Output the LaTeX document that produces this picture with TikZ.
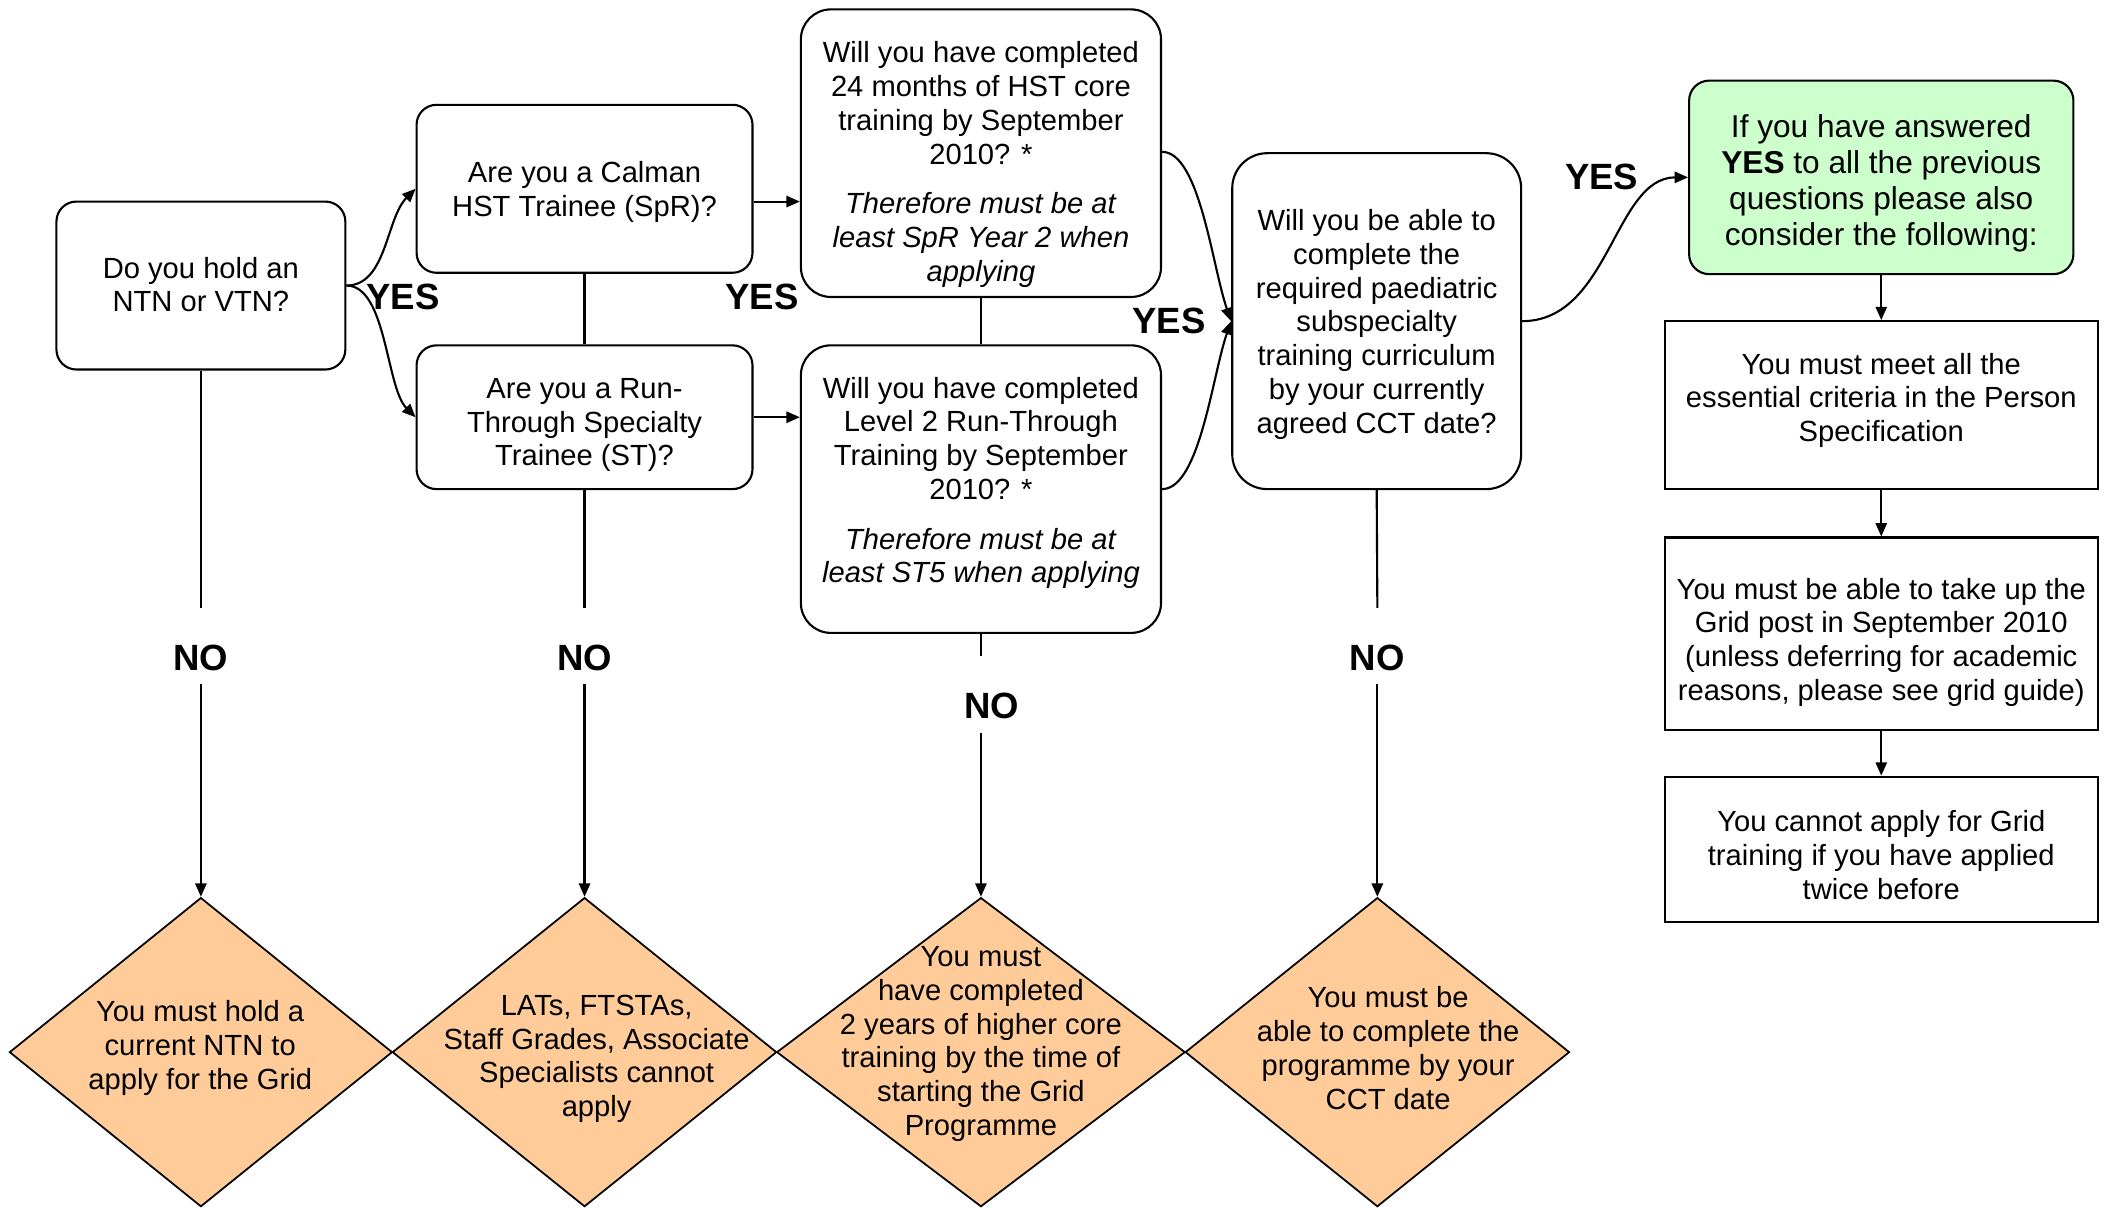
\documentclass[tikz,border=0pt]{standalone}
\usepackage{fontspec}
\setmainfont{Liberation Sans}
\usetikzlibrary{arrows.meta,shapes.geometric}

\definecolor{peach}{HTML}{FFCC99}
\definecolor{mint}{HTML}{CCFFCC}
\newlength\pxdim
\setlength\pxdim{0.013438cm}
% text block moved down by #1, box keeps its natural size
\newcommand{\lowered}[2]{\raisebox{-#1}[\height][\depth]{\begin{tabular}{@{}c@{}}#2\end{tabular}}}

\tikzset{
  question/.style={draw, line width=0.6pt, rounded corners=0.2cm, inner sep=0pt, font=\fontsize{8.3}{9.6}\selectfont},
  condition/.style={draw, line width=0.6pt, inner sep=0pt, minimum width=322*\pxdim, font=\fontsize{8.3}{9.6}\selectfont},
  outcome/.style={diamond, draw, fill=peach, line width=0.5pt, inner sep=0pt, minimum width=286*\pxdim, minimum height=230*\pxdim},
  outcometext/.style={align=center, inner sep=0pt, font=\fontsize{8.3}{9.6}\selectfont},
  answer/.style={inner sep=0pt, font=\bfseries\fontsize{10.4}{12}\selectfont},
  noanswer/.style={answer, anchor=base, text height=0.62cm, text depth=0.13cm},
  arr/.style={-{Triangle[length=3.8pt,width=3.2pt]}, line width=0.6pt},
  link/.style={line width=0.6pt}
}

\begin{document}
\begin{tikzpicture}[x=0.013438cm, y=-0.013438cm]
    \useasboundingbox (0,0) rectangle (1568,899);

    % questions
    \node[question, minimum width=215*\pxdim, minimum height=125*\pxdim] (ntn) at (149.5,212.5) {\lowered{2\pxdim}{Do you hold an\\NTN or VTN?}};
    \node[question, minimum width=250*\pxdim, minimum height=125*\pxdim] (calman) at (435,140.5) {\lowered{3\pxdim}{Are you a Calman\\HST Trainee (SpR)?}};
    \node[question, minimum width=250*\pxdim, minimum height=107*\pxdim] (runthrough) at (435,310.5) {\lowered{6\pxdim}{Are you a Run-\\Through Specialty\\Trainee (ST)?}};
    \node[question, rounded corners=0.3cm, minimum width=268*\pxdim, minimum height=214*\pxdim] (hstcore) at (730,114) {\lowered{9\pxdim}{Will you have completed\\24 months of HST core\\training by September\\2010? *\\[0.16cm]\textit{Therefore must be at}\\\textit{least SpR Year 2 when}\\\textit{applying}}};
    \node[question, rounded corners=0.3cm, minimum width=268*\pxdim, minimum height=214*\pxdim] (level2) at (730,364) {\lowered{-4\pxdim}{Will you have completed\\Level 2 Run-Through\\Training by September\\2010? *\\[0.16cm]\textit{Therefore must be at}\\\textit{least ST5 when applying}}};
    \node[question, rounded corners=0.35cm, minimum width=215*\pxdim, minimum height=250*\pxdim] (curric) at (1024.5,239) {\lowered{3\pxdim}{Will you be able to\\complete the\\required paediatric\\subspecialty\\training curriculum\\by your currently\\agreed CCT date?}};

    % conditions
    \node[question, fill=mint, minimum width=286*\pxdim, minimum height=144*\pxdim, font=\fontsize{9}{10.3}\selectfont] (allyes) at (1400,132) {\lowered{5\pxdim}{If you have answered\\\textbf{YES} to all the previous\\questions please also\\consider the following:}};
    \node[condition, minimum height=125*\pxdim] (personspec) at (1400,301.5) {\lowered{-3\pxdim}{You must meet all the\\essential criteria in the Person\\Specification}};
    \node[condition, minimum height=143*\pxdim] (gridpost) at (1400,471.5) {\lowered{7\pxdim}{You must be able to take up the\\Grid post in September 2010\\(unless deferring for academic\\reasons, please see grid guide)}};
    \node[condition, minimum height=108*\pxdim] (twice) at (1400,632) {\lowered{7\pxdim}{You cannot apply for Grid\\training if you have applied\\twice before}};

    % outcomes
    \node[outcome, minimum width=285*\pxdim] (nontn) at (149.5,783) {};
    \node[outcome] (nost) at (435,783) {};
    \node[outcome, minimum width=304*\pxdim] (nohst) at (730,783) {};
    \node[outcome] (nocct) at (1025,783) {};

    \node[outcometext] (nontntext) at (149,780) {You must hold a\\current NTN to\\apply for the Grid};
    \node[outcometext] (nosttext) at (444,788) {LATs, FTSTAs,\\Staff Grades, Associate\\Specialists cannot\\apply};
    \node[outcometext] (nohsttext) at (730,777) {You must\\have completed\\2 years of higher core\\training by the time of\\starting the Grid\\Programme};
    \node[outcometext] (noccttext) at (1033,780) {You must be\\able to complete the\\programme by your\\CCT date};

    % yes labels
    \node[answer] (yesntn) at (300,221) {YES};
    \node[answer] (yestrainee) at (567,221) {YES};
    \node[answer] (yesdone) at (870,239) {YES};
    \node[answer] (yescct) at (1192,132) {YES};

    % no labels
    \node[noanswer] (nontnlabel) at (149.5,499) {NO};
    \node[noanswer] (nostlabel) at (435,499) {NO};
    \node[noanswer] (nohstlabel) at (738,535) {NO};
    \node[noanswer] (nocctlabel) at (1025,499) {NO};

    % yes branches
    \draw[arr] (ntn.east) .. controls +(30,0) and +(-22,22) .. (calman.west);
    \draw[arr] (ntn.east) .. controls +(30,0) and +(-22,-22) .. (runthrough.west);
    \draw[arr] (calman.east |- 0,150) -- (hstcore.west |- 0,150);
    \draw[arr] (runthrough.east) -- (level2.west |- runthrough.east);
    \draw[arr] (hstcore.east |- 0,113) .. controls +(28,0) and +(-14,-40) .. (curric.west);
    \draw[arr] (level2.east |- 0,364) .. controls +(28,0) and +(-14,40) .. (curric.west);
    \draw[arr] (curric.east) .. controls +(65,0) and +(-55,0) .. (allyes.west);
    \draw[link] (calman.south) -- (runthrough.north);
    \draw[link] (hstcore.south) -- (level2.north);

    % no branches
    \draw[link] (ntn.south) -- (nontnlabel.north);
    \draw[arr] (nontnlabel.south) -- (nontn.north);
    \draw[link] (runthrough.south) -- (nostlabel.north);
    \draw[arr] (nostlabel.south) -- (nost.north);
    \draw[link] (level2.south) -- (level2.south |- nohstlabel.north);
    \draw[arr] (nohst.north |- nohstlabel.south) -- (nohst.north);
    \draw[link] (curric.south) -- (nocctlabel.north);
    \draw[arr] (nocctlabel.south) -- (nocct.north);

    % conditions chain
    \draw[arr] (allyes) -- (personspec);
    \draw[arr] (personspec) -- (gridpost);
    \draw[arr] (gridpost) -- (twice);
\end{tikzpicture}
\end{document}
